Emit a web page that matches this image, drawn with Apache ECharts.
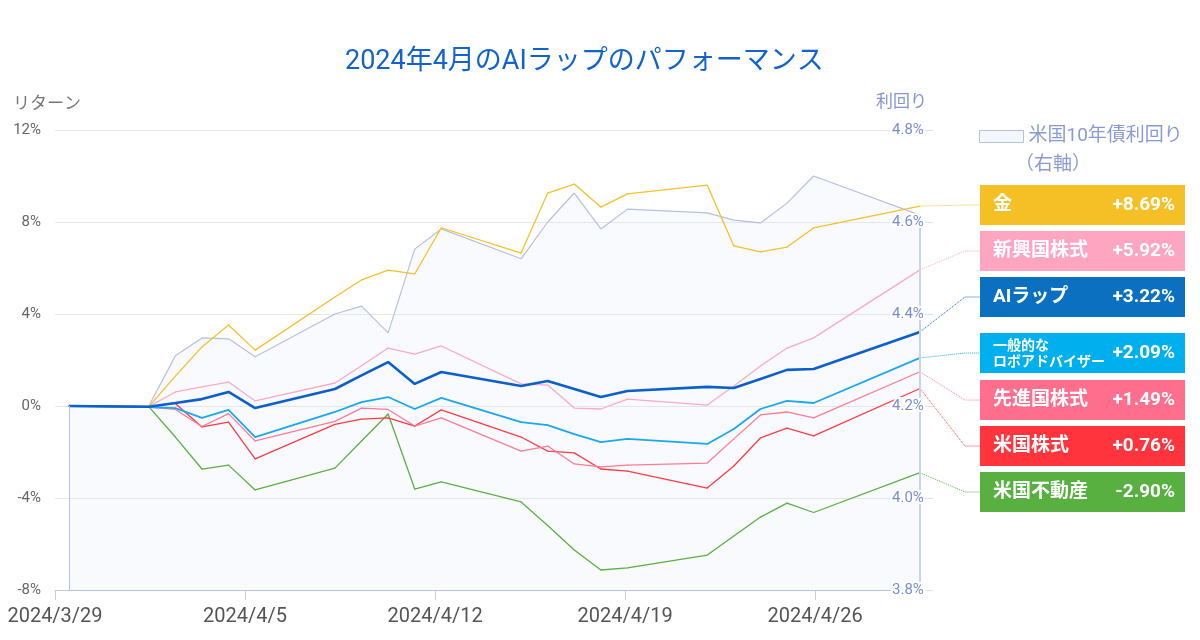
<!DOCTYPE html>
<html>
<head>
<meta charset="utf-8">
<script src="https://cdn.jsdelivr.net/npm/echarts@6/dist/echarts.min.js"></script>
<style>
html, body { margin: 0; padding: 0; background: #fff; }
#chart { width: 1200px; height: 640px; }
</style>
</head>
<body>
<div id="chart"></div>
<script>
// trading days (April 2024)
const dates = ['2024-03-29', '2024-04-01', '2024-04-02', '2024-04-03', '2024-04-04', '2024-04-05',
  '2024-04-08', '2024-04-09', '2024-04-10', '2024-04-11', '2024-04-12',
  '2024-04-15', '2024-04-16', '2024-04-17', '2024-04-18', '2024-04-19',
  '2024-04-22', '2024-04-23', '2024-04-24', '2024-04-25', '2024-04-26', '2024-04-30'];

// returns (%)
const gold      = [0, -0.03, 1.30, 2.57, 3.52, 2.43, 4.74, 5.48, 5.91, 5.74, 7.75, 6.65, 9.26, 9.65, 8.65, 9.22, 9.60, 6.96, 6.70, 6.91, 7.74, 8.69];
const emerging  = [0, -0.03, 0.61, 0.83, 1.04, 0.22, 1.00, 1.75, 2.52, 2.26, 2.61, 0.96, 0.91, -0.09, -0.13, 0.30, 0.04, 0.87, 1.74, 2.52, 2.96, 5.92];
const aiWrap    = [0, -0.03, 0.13, 0.30, 0.61, -0.09, 0.74, 1.33, 1.91, 0.96, 1.48, 0.87, 1.09, 0.74, 0.39, 0.65, 0.83, 0.78, 1.17, 1.57, 1.61, 3.22];
const roboAdv   = [0, -0.05, -0.09, -0.52, -0.17, -1.35, -0.26, 0.17, 0.39, -0.13, 0.35, -0.70, -0.83, -1.22, -1.57, -1.43, -1.65, -1.00, -0.13, 0.22, 0.13, 2.09];
const developed = [0, -0.05, -0.15, -0.89, -0.33, -1.52, -0.67, -0.09, -0.15, -0.87, -0.52, -1.96, -1.74, -2.52, -2.65, -2.57, -2.48, -1.43, -0.39, -0.26, -0.52, 1.49];
const usStock   = [0, -0.03, 0.11, -0.91, -0.70, -2.30, -0.80, -0.57, -0.52, -0.87, -0.17, -1.35, -1.96, -2.04, -2.74, -2.83, -3.57, -2.61, -1.39, -0.96, -1.30, 0.76];
const usReit    = [0, -0.03, -1.35, -2.74, -2.57, -3.65, -2.70, -1.52, -0.35, -3.61, -3.30, -4.17, -5.20, -6.26, -7.13, -7.04, -6.48, -5.65, -4.83, -4.22, -4.63, -2.90];

// US 10y yield (%), right axis
const yield10y  = [4.200, 4.200, 4.309, 4.348, 4.346, 4.307, 4.400, 4.417, 4.359, 4.541, 4.585, 4.520, 4.600, 4.663, 4.585, 4.628, 4.620, 4.604, 4.598, 4.641, 4.700, 4.615];

const seriesNames = ['金', '新興国株式', 'AIラップ', '一般的なロボアドバイザー', '先進国株式', '米国株式', '米国不動産'];
const seriesValues = [gold, emerging, aiWrap, roboAdv, developed, usStock, usReit];
const tickDates = ['2024-03-29', '2024-04-05', '2024-04-12', '2024-04-19', '2024-04-26'];

const lineColors = ['#f6c12b', '#fbaac6', '#0b5fcf', '#1aa8f2', '#ff7b95', '#ff3a44', '#5bb043'];
const boxColors  = ['#f5c026', '#fda5c1', '#0a70bf', '#00b0ee', '#ff6e8c', '#ff343c', '#58b041'];
const lineWidths = [1.3, 1.3, 2.6, 1.8, 1.3, 1.3, 1.3];
const boxCenterY = [205, 251, 297, 353, 400, 446, 492];

const FONT = 'Roboto, "Noto Sans CJK JP", sans-serif';
const DAY = 86400000;
const tickOffsets = tickDates.map(d => (Date.parse(d) - Date.parse(tickDates[0])) / DAY);

function fmtTick(v) {
  const i = tickOffsets.indexOf(v);
  if (i < 0) return '';
  const p = tickDates[i].split('-');
  return p[0] + '/' + (+p[1]) + '/' + (+p[2]);
}

let chart = echarts.init(document.getElementById('chart'));

const lineSeries = seriesNames.map((name, i) => {
  const vals = seriesValues[i];
  const last = vals.length - 1;
  return {
    name: name,
    type: 'line',
    xAxisIndex: 0,
    yAxisIndex: 0,
    z: name === 'AIラップ' ? 4 : 3,
    symbol: 'circle',
    symbolSize: 1,
    showSymbol: true,
    lineStyle: { width: lineWidths[i], color: lineColors[i] },
    itemStyle: { color: lineColors[i] },
    emphasis: { disabled: true },
    label: {
      show: false,
      formatter: p => {
        const v = p.value[1];
        const txt = (v >= 0 ? '+' : '') + v.toFixed(2) + '%';
        const n = name === '一般的なロボアドバイザー' ? ' ' : name;
        return '{n|' + n + '}{v|' + txt + '}';
      },
      backgroundColor: boxColors[i],
      padding: [0, 10, 0, 13],
      rich: {
        n: { width: 108, fontSize: 19, fontWeight: 'bold', color: '#fff', lineHeight: 40, fontFamily: FONT },
        v: { width: 74, align: 'right', fontSize: 19, fontWeight: 'bold', color: '#fff', lineHeight: 40, fontFamily: FONT }
      }
    },
    labelLine: { show: false, length2: 15, smooth: false, lineStyle: { type: 'dotted', width: 1, color: lineColors[i] } },
    labelLayout: () => ({ x: 980, y: boxCenterY[i], align: 'left', verticalAlign: 'middle' }),
    data: vals.map((v, k) => k === last
      ? { value: [dates[k], v], label: { show: true }, labelLine: { show: true } }
      : [dates[k], v])
  };
});

// draw order: AI last
const drawOrder = [6, 5, 4, 3, 1, 0, 2].map(k => lineSeries[k]);

const n = dates.length;
const option = {
  animation: false,
  textStyle: { fontFamily: FONT },
  title: [
    { text: '2024年4月のAIラップのパフォーマンス', left: 340, top: 44,
      textStyle: { fontSize: 27, fontWeight: 'normal', color: '#1262d0', fontFamily: FONT } },
    { text: 'リターン', left: 8, top: 91, textStyle: { fontSize: 17, fontWeight: 'normal', color: '#777', fontFamily: FONT } },
    { text: '利回り', left: 871, top: 89, textStyle: { fontSize: 17, fontWeight: 'normal', color: '#8595d2', fontFamily: FONT } },
    { text: '（右軸）', left: 1010, top: 151, textStyle: { fontSize: 19, fontWeight: 'normal', color: '#8a9bd4', fontFamily: FONT } }
  ],
  legend: {
    data: ['米国10年債利回り'],
    left: 974, top: 122,
    icon: 'rect', itemWidth: 44, itemHeight: 12,
    itemStyle: { color: '#f3f6fc', borderColor: '#b6c0e2', borderWidth: 1 },
    textStyle: { color: '#8a9bd4', fontSize: 19, fontFamily: FONT },
    selectedMode: false
  },
  grid: { left: 55, right: 279, top: 130, bottom: 50, outerBoundsMode: 'none' },
  xAxis: [
    { type: 'time', position: 'top', show: false,
      min: '2024-03-28 11:22', max: '2024-04-30 00:54' },
    { type: 'value', position: 'bottom', min: 0, max: 31.9,
      axisLine: { show: true, lineStyle: { color: '#ccc' } },
      axisTick: { show: true, length: 10, lineStyle: { color: '#ccc' }, customValues: tickOffsets },
      axisLabel: { customValues: tickOffsets, formatter: fmtTick, fontSize: 20, color: '#555', margin: 17, fontFamily: FONT },
      splitLine: { show: false } }
  ],
  yAxis: [
    { type: 'value', min: -8, max: 12, interval: 4, position: 'left',
      axisLine: { show: false }, axisTick: { show: false },
      axisLabel: { formatter: '{value}%', color: '#666', fontSize: 15, margin: 14, fontFamily: FONT },
      splitLine: { lineStyle: { color: '#e6e6e6' } } },
    { type: 'value', min: 3.8, max: 4.8, interval: 0.2, position: 'right', z: 10,
      axisLine: { show: false },
      axisTick: { show: true, length: 12, lineStyle: { color: '#dde' } },
      axisLabel: { formatter: v => v.toFixed(1) + '%', color: '#7b8cd4', fontSize: 15, margin: -29,
        textBorderColor: '#fff', textBorderWidth: 4, fontFamily: FONT },
      splitLine: { show: false } }
  ],
  graphic: [
    { type: 'text', left: 993, top: 338, z: 100,
      style: { text: '一般的な\nロボアドバイザー', fill: '#fff', font: 'bold 14px ' + FONT, lineHeight: 16 } }
  ],
  series: [
    {
      name: '米国10年債利回り',
      type: 'line',
      xAxisIndex: 0,
      yAxisIndex: 1,
      z: 1,
      showSymbol: false,
      lineStyle: { width: 1.2, color: '#b6c0e2' },
      itemStyle: { color: '#b6c0e2' },
      areaStyle: { color: 'rgba(220,232,250,0.3)', origin: 'start' },
      emphasis: { disabled: true },
      markLine: {
        silent: true, symbol: 'none', animation: false,
        label: { show: false },
        lineStyle: { color: '#b6c0e2', width: 1, type: 'solid' },
        data: [
          [{ coord: [dates[0], 3.8] }, { coord: [dates[0], yield10y[0]] }],
          [{ coord: [dates[n - 1], 3.8], lineStyle: { color: '#cbd3ec', width: 2, type: 'solid' } }, { coord: [dates[n - 1], yield10y[n - 1]] }],
          [{ coord: [dates[0], 3.8] }, { coord: [dates[n - 1], 3.8] }]
        ]
      },
      data: dates.map((d, k) => [d, yield10y[k]])
    }
  ].concat(drawOrder)
};

chart.setOption(option);
</script>
</body>
</html>
